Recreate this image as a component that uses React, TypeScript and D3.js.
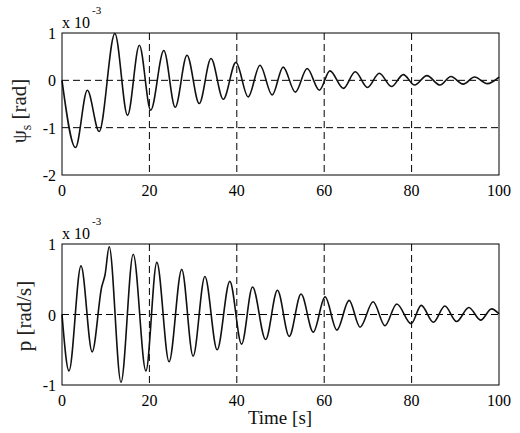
import React from "react";
import * as d3 from "d3";

// Top panel: yaw psi_s (x 1e-3 rad), extrema
const psiTime = [0, 3.1, 5.8, 8.5, 12.1, 15.0, 17.7, 20.3, 23.3, 25.9, 28.6, 31.4, 34.1, 36.9, 39.8, 42.6, 45.3, 48.1, 50.6, 53.4, 56.1, 58.9, 61.3, 64.4, 67.1, 69.9, 72.6, 75.4, 78.1, 80.7, 83.5, 86.5, 89.0, 91.8, 94.4, 97.3, 100];
const psiValue = [0, -1.42, -0.21, -1.08, 0.99, -0.74, 0.74, -0.63, 0.63, -0.57, 0.53, -0.49, 0.46, -0.40, 0.38, -0.35, 0.32, -0.31, 0.28, -0.25, 0.25, -0.21, 0.20, -0.17, 0.18, -0.15, 0.15, -0.13, 0.12, -0.10, 0.10, -0.10, 0.08, -0.08, 0.07, -0.07, 0.07];

// Bottom panel: roll rate p (x 1e-3 rad/s)
const pTime = [0, 1.6, 4.35, 6.9, 9.08, 9.84, 10.8, 13.5, 16.3, 19.2, 21.7, 24.5, 27.4, 30.0, 32.7, 35.5, 38.4, 41.1, 43.6, 46.6, 49.3, 52.0, 54.7, 57.5, 60.2, 62.9, 65.7, 68.2, 71.2, 73.9, 76.6, 79.9, 82.2, 85.0, 87.6, 90.3, 93.1, 95.8, 98.3, 100];
const pValue = [0, -0.80, 0.69, -0.53, 0.39, 0.56, 0.96, -0.96, 0.855, -0.80, 0.74, -0.67, 0.64, -0.59, 0.54, -0.50, 0.47, -0.42, 0.39, -0.355, 0.345, -0.31, 0.29, -0.25, 0.25, -0.22, 0.20, -0.18, 0.18, -0.16, 0.15, -0.13, 0.13, -0.11, 0.12, -0.10, 0.10, -0.08, 0.08, 0.01];

const xTicks = [0, 20, 40, 60, 80, 100];
const xGrid = [20, 40, 60, 80];
const topYTicks = [-2, -1, 0, 1];
const topYGrid = [-1, 0];
const botYTicks = [-1, 0, 1];
const botYGrid = [0];

const FONT = "'Liberation Serif', 'Times New Roman', serif";

export default function App() {
  const x = d3.scaleLinear().domain([0, 100]).range([62, 499]);
  const yTop = d3.scaleLinear().domain([-2, 1]).range([175, 33]);
  const yBot = d3.scaleLinear().domain([-1, 1]).range([385, 244]);

  const lineTop = d3
    .line<number>()
    .x((_, i) => x(psiTime[i]))
    .y((d) => yTop(d))
    .curve(d3.curveMonotoneX);
  const lineBot = d3
    .line<number>()
    .x((_, i) => x(pTime[i]))
    .y((d) => yBot(d))
    .curve(d3.curveMonotoneX);

  const panel = (
    y: d3.ScaleLinear<number, number>,
    yTicks: number[],
    yGrid: number[],
    path: string,
    key: string
  ) => {
    const [bottom, top] = y.range();
    return (
      <g key={key}>
        {xGrid.map((t) => (
          <line key={"xg" + t} x1={x(t)} x2={x(t)} y1={top} y2={bottom} stroke="#000" strokeWidth={1} strokeDasharray="7,4" />
        ))}
        {yGrid.map((t) => (
          <line key={"yg" + t} x1={x(0)} x2={x(100)} y1={y(t)} y2={y(t)} stroke="#000" strokeWidth={1} strokeDasharray="7,4" />
        ))}
        <path d={path} fill="none" stroke="#111" strokeWidth={1.6} />
        <rect x={x(0)} y={top} width={x(100) - x(0)} height={bottom - top} fill="none" stroke="#000" strokeWidth={1} />
        {xTicks.map((t) => (
          <text key={"xt" + t} x={x(t)} y={bottom + 21} textAnchor="middle" fontSize={16} fontFamily={FONT}>
            {t}
          </text>
        ))}
        {yTicks.map((t) => (
          <text key={"yt" + t} x={56} y={y(t) + 6} textAnchor="end" fontSize={16} fontFamily={FONT}>
            {t}
          </text>
        ))}
        <text x={x(0)} y={top - 5} fontSize={16} fontFamily={FONT}>
          x 10
        </text>
        <text x={x(0) + 30} y={top - 19} fontSize={11} fontFamily={FONT}>
          -3
        </text>
      </g>
    );
  };

  return (
    <svg width={520} height={433} style={{ position: "absolute", left: 0, top: 0, background: "#fff" }}>
      <rect x={0} y={0} width={520} height={433} fill="#fff" />
      {panel(yTop, topYTicks, topYGrid, lineTop(psiValue) || "", "top")}
      {panel(yBot, botYTicks, botYGrid, lineBot(pValue) || "", "bot")}
      <text transform="translate(26,111) rotate(-90)" textAnchor="middle" fontSize={21} fontFamily={FONT} fill="#222">
        ψ<tspan fontSize={14} dy={5}>s</tspan>
        <tspan dy={-5}> [rad]</tspan>
      </text>
      <text transform="translate(31,316) rotate(-90)" textAnchor="middle" fontSize={21} fontFamily={FONT} fill="#222">
        p [rad/s]
      </text>
      <text x={280} y={424} textAnchor="middle" fontSize={19} fontFamily={FONT} fill="#111">
        Time [s]
      </text>
    </svg>
  );
}
